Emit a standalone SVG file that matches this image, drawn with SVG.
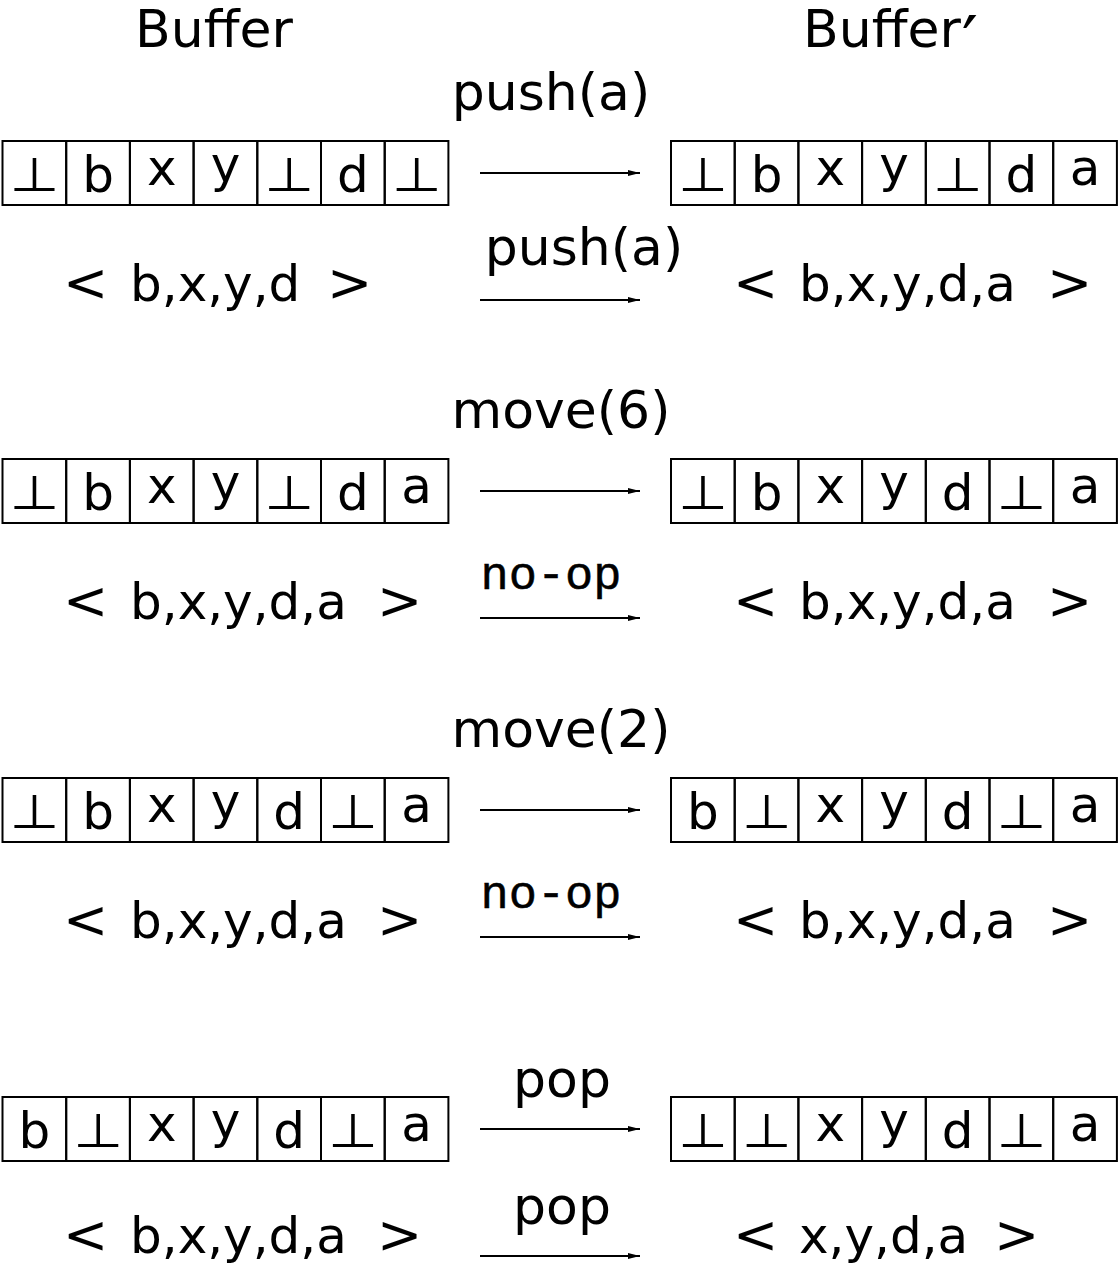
<svg xmlns="http://www.w3.org/2000/svg" width="1118" height="1266" viewBox="0 0 1118 1266">
  <defs>
    <style>
      .bg { fill: #ffffff; }
      .cell { fill: none; stroke: #000; stroke-width: 2; }
      .t { font-family: "DejaVu Sans", sans-serif; fill: #000; }
      .hd { font-size: 52px; }
      .op { font-size: 52px; text-anchor: middle; }
      .tt { font-family: "Liberation Mono", monospace; font-size: 47px; text-anchor: middle; fill: #000; stroke: #000; stroke-width: 0.5; }
      .seq { font-size: 50px; }
      .rel { font-size: 54px; }
      .c { font-size: 50px; text-anchor: middle; }
      .arr { stroke: #000; stroke-width: 2; fill: none; marker-end: url(#head); }
    </style>
    <marker id="head" markerUnits="userSpaceOnUse" markerWidth="12" markerHeight="6" refX="12" refY="3" orient="auto">
      <path d="M0,0 L12,3 L0,6 Z" fill="#000"/>
    </marker>
    <!-- seven-cell buffer outline, row-relative (top at y=0) -->
    <g id="cells7">
      <rect class="cell" x="0" y="0" width="63.7" height="64"/>
      <rect class="cell" x="63.7" y="0" width="63.7" height="64"/>
      <rect class="cell" x="127.4" y="0" width="63.7" height="64"/>
      <rect class="cell" x="191.1" y="0" width="63.7" height="64"/>
      <rect class="cell" x="254.8" y="0" width="63.7" height="64"/>
      <rect class="cell" x="318.5" y="0" width="63.7" height="64"/>
      <rect class="cell" x="382.2" y="0" width="63.7" height="64"/>
    </g>
    <!-- empty-slot mark, widened; placed by <use x y> at the cell centre -->
    <text id="bot" class="t" font-size="47" text-anchor="middle" transform="scale(1.22,1)">⊥</text>
  </defs>

  <rect class="bg" x="0" y="0" width="1118" height="1266"/>

  <!-- column headings -->
  <g id="head-buffer"><text class="t hd" x="214" y="47" text-anchor="middle">Buffer</text></g>
  <g id="head-buffer2"><text class="t hd" x="803" y="47" text-anchor="start">Buffer<tspan font-size="72" dx="1" dy="20">′</tspan></text></g>

  <!-- operation labels -->
  <g id="op-labels">
    <text class="t op" x="551" y="110">push(a)</text>
    <text class="t op" x="584" y="265">push(a)</text>
    <text class="t op" x="561" y="428">move(6)</text>
    <text class="tt" x="551" y="589">no-op</text>
    <text class="t op" x="561" y="747">move(2)</text>
    <text class="tt" x="551" y="908">no-op</text>
    <text class="t op" x="562" y="1097">pop</text>
    <text class="t op" x="562" y="1224">pop</text>
  </g>

  <!-- row 1 buffers -->
  <g id="buf-1L" transform="translate(2.5,141)">
    <use href="#cells7"/>
    <use href="#bot" x="31.9" y="50"/>
    <text class="t c" x="95.6" y="51">b</text>
    <text class="t c" x="159.3" y="44">x</text>
    <text class="t c" x="223" y="41">y</text>
    <use href="#bot" x="286.7" y="50"/>
    <text class="t c" x="350.4" y="51">d</text>
    <use href="#bot" x="414.1" y="50"/>
  </g>
  <g id="buf-1R" transform="translate(671,141)">
    <use href="#cells7"/>
    <use href="#bot" x="31.9" y="50"/>
    <text class="t c" x="95.6" y="51">b</text>
    <text class="t c" x="159.3" y="44">x</text>
    <text class="t c" x="223" y="41">y</text>
    <use href="#bot" x="286.7" y="50"/>
    <text class="t c" x="350.4" y="51">d</text>
    <text class="t c" x="414.1" y="44">a</text>
  </g>

  <!-- row 2 buffers -->
  <g id="buf-2L" transform="translate(2.5,459)">
    <use href="#cells7"/>
    <use href="#bot" x="31.9" y="50"/>
    <text class="t c" x="95.6" y="51">b</text>
    <text class="t c" x="159.3" y="44">x</text>
    <text class="t c" x="223" y="41">y</text>
    <use href="#bot" x="286.7" y="50"/>
    <text class="t c" x="350.4" y="51">d</text>
    <text class="t c" x="414.1" y="44">a</text>
  </g>
  <g id="buf-2R" transform="translate(671,459)">
    <use href="#cells7"/>
    <use href="#bot" x="31.9" y="50"/>
    <text class="t c" x="95.6" y="51">b</text>
    <text class="t c" x="159.3" y="44">x</text>
    <text class="t c" x="223" y="41">y</text>
    <text class="t c" x="286.7" y="51">d</text>
    <use href="#bot" x="350.4" y="50"/>
    <text class="t c" x="414.1" y="44">a</text>
  </g>

  <!-- row 3 buffers -->
  <g id="buf-3L" transform="translate(2.5,778)">
    <use href="#cells7"/>
    <use href="#bot" x="31.9" y="50"/>
    <text class="t c" x="95.6" y="51">b</text>
    <text class="t c" x="159.3" y="44">x</text>
    <text class="t c" x="223" y="41">y</text>
    <text class="t c" x="286.7" y="51">d</text>
    <use href="#bot" x="350.4" y="50"/>
    <text class="t c" x="414.1" y="44">a</text>
  </g>
  <g id="buf-3R" transform="translate(671,778)">
    <use href="#cells7"/>
    <text class="t c" x="31.9" y="51">b</text>
    <use href="#bot" x="95.6" y="50"/>
    <text class="t c" x="159.3" y="44">x</text>
    <text class="t c" x="223" y="41">y</text>
    <text class="t c" x="286.7" y="51">d</text>
    <use href="#bot" x="350.4" y="50"/>
    <text class="t c" x="414.1" y="44">a</text>
  </g>

  <!-- row 4 buffers -->
  <g id="buf-4L" transform="translate(2.5,1097)">
    <use href="#cells7"/>
    <text class="t c" x="31.9" y="51">b</text>
    <use href="#bot" x="95.6" y="50"/>
    <text class="t c" x="159.3" y="44">x</text>
    <text class="t c" x="223" y="41">y</text>
    <text class="t c" x="286.7" y="51">d</text>
    <use href="#bot" x="350.4" y="50"/>
    <text class="t c" x="414.1" y="44">a</text>
  </g>
  <g id="buf-4R" transform="translate(671,1097)">
    <use href="#cells7"/>
    <use href="#bot" x="31.9" y="50"/>
    <use href="#bot" x="95.6" y="50"/>
    <text class="t c" x="159.3" y="44">x</text>
    <text class="t c" x="223" y="41">y</text>
    <text class="t c" x="286.7" y="51">d</text>
    <use href="#bot" x="350.4" y="50"/>
    <text class="t c" x="414.1" y="44">a</text>
  </g>

  <!-- abstract sequences -->
  <g id="seq-1L"><text class="t seq" y="301"><tspan class="rel" x="63">&lt;</tspan><tspan x="130">b,x,y,d</tspan><tspan class="rel" x="327">&gt;</tspan></text></g>
  <g id="seq-1R"><text class="t seq" y="301"><tspan class="rel" x="733">&lt;</tspan><tspan x="799">b,x,y,d,a</tspan><tspan class="rel" x="1047">&gt;</tspan></text></g>
  <g id="seq-2L"><text class="t seq" y="619"><tspan class="rel" x="63">&lt;</tspan><tspan x="130">b,x,y,d,a</tspan><tspan class="rel" x="377">&gt;</tspan></text></g>
  <g id="seq-2R"><text class="t seq" y="619"><tspan class="rel" x="733">&lt;</tspan><tspan x="799">b,x,y,d,a</tspan><tspan class="rel" x="1047">&gt;</tspan></text></g>
  <g id="seq-3L"><text class="t seq" y="938"><tspan class="rel" x="63">&lt;</tspan><tspan x="130">b,x,y,d,a</tspan><tspan class="rel" x="377">&gt;</tspan></text></g>
  <g id="seq-3R"><text class="t seq" y="938"><tspan class="rel" x="733">&lt;</tspan><tspan x="799">b,x,y,d,a</tspan><tspan class="rel" x="1047">&gt;</tspan></text></g>
  <g id="seq-4L"><text class="t seq" y="1253"><tspan class="rel" x="63">&lt;</tspan><tspan x="130">b,x,y,d,a</tspan><tspan class="rel" x="377">&gt;</tspan></text></g>
  <g id="seq-4R"><text class="t seq" y="1253"><tspan class="rel" x="733">&lt;</tspan><tspan x="799">x,y,d,a</tspan><tspan class="rel" x="994">&gt;</tspan></text></g>

  <!-- transition arrows -->
  <g id="connectors">
    <line class="arr" x1="480" y1="173" x2="640" y2="173"/>
    <line class="arr" x1="480" y1="300" x2="640" y2="300"/>
    <line class="arr" x1="480" y1="491" x2="640" y2="491"/>
    <line class="arr" x1="480" y1="618" x2="640" y2="618"/>
    <line class="arr" x1="480" y1="810" x2="640" y2="810"/>
    <line class="arr" x1="480" y1="937" x2="640" y2="937"/>
    <line class="arr" x1="480" y1="1129" x2="640" y2="1129"/>
    <line class="arr" x1="480" y1="1256" x2="640" y2="1256"/>
  </g>
</svg>
